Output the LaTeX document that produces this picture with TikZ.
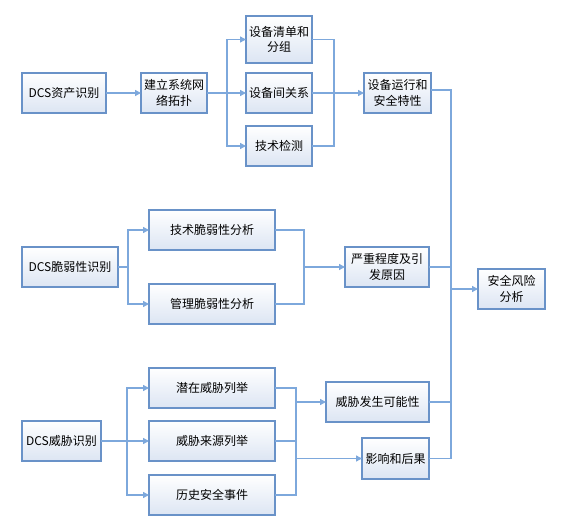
\documentclass[tikz,border=0pt]{standalone}
\usepackage{fontspec}
\usepackage{tikz}
\usetikzlibrary{arrows.meta}
\newfontfamily\cjk{Noto Sans CJK SC}
\definecolor{boxline}{RGB}{105,146,200}
\definecolor{boxshade}{RGB}{220,229,243}
\definecolor{linkline}{RGB}{125,168,220}
\tikzstyle{box}=[draw=boxline, line width=1.4pt, top color=white, bottom color=boxshade,
                 inner sep=0, outer sep=0, minimum height=40pt, align=center,
                 font=\cjk\fontsize{12}{15.5}\selectfont]
\tikzstyle{link}=[draw=linkline, line width=1.5pt]
\tikzstyle{arrow}=[link, -{Triangle[length=6pt, width=6pt]}]
\tikzstyle{flowchart}=[x=1pt, y=-1pt,
                       % Keep the page the size of the reference.
                       execute at end picture={\useasboundingbox (0,0) rectangle (566,527);}]

\begin{document}
\begin{tikzpicture}[flowchart]
        \useasboundingbox (0,0) rectangle (566,527);
        % assets
        \node[box, minimum width=84pt] (A1) at (64, 93) {DCS资产识别};
        \node[box, minimum width=66pt] (A2) at (174, 93) {建立系统网\\络拓扑};
        \node[box, minimum width=66pt, minimum height=47pt] (B1) at (279, 39.5) {设备清单和\\分组};
        \node[box, minimum width=66pt] (B2) at (279, 93) {设备间关系};
        \node[box, minimum width=66pt] (B3) at (279, 146) {技术检测};
        \node[box, minimum width=67pt] (C1) at (397.5, 93) {设备运行和\\安全特性};
        \coordinate (bA) at (227, 93);
        \coordinate (mA) at (334, 93);
        \draw[arrow] (A1) -- (A2);
        \draw[link] (A2) -- (bA);
        \draw[arrow] (bA) |- (B1);
        \draw[arrow] (bA) -- (B2);
        \draw[arrow] (bA) |- (B3);
        \draw[link] (B1.east) -| (mA) |- (B3.east);
        \draw[arrow] (B2) -- (C1);
        % vulnerabilities
        \node[box, minimum width=96pt] (V1) at (70, 267) {DCS脆弱性识别};
        \node[box, minimum width=126pt] (V2) at (212, 230) {技术脆弱性分析};
        \node[box, minimum width=126pt] (V3) at (212, 304) {管理脆弱性分析};
        \node[box, minimum width=84pt] (V4) at (387, 267) {严重程度及引\\发原因};
        \coordinate (bV) at (128, 267);
        \coordinate (mV) at (304, 267);
        \draw[link] (V1) -- (bV);
        \draw[arrow] (bV) |- (V2);
        \draw[arrow] (bV) |- (V3);
        \draw[link] (V2.east) -| (mV) |- (V3.east);
        \draw[arrow] (mV) -- (V4);
        % threats
        \node[box, minimum width=79pt] (W1) at (61.5, 441) {DCS威胁识别};
        \node[box, minimum width=126pt] (W2) at (212, 388) {潜在威胁列举};
        \node[box, minimum width=126pt] (W3) at (212, 441) {威胁来源列举};
        \node[box, minimum width=126pt] (W4) at (212, 495) {历史安全事件};
        \node[box, minimum width=103pt] (F1) at (377.5, 402) {威胁发生可能性};
        \node[box, minimum width=67pt, minimum height=41pt] (F2) at (395.5, 458.5) {影响和后果};
        \coordinate (bW) at (127, 441);
        \coordinate (mW1) at (296, 402);
        \coordinate (mW2) at (296, 458.5);
        \draw[link] (W1) -- (bW);
        \draw[arrow] (bW) |- (W2);
        \draw[arrow] (bW) -- (W3);
        \draw[arrow] (bW) |- (W4);
        \draw[link] (W2.east) -| (mW1) -- (mW2) |- (W4.east);
        \draw[link] (W3.east) -- (W3.east -| mW1);
        \draw[arrow] (mW1) -- (F1);
        \draw[arrow] (mW2) -- (F2);
        % risk
        \node[box, minimum width=67pt] (G) at (511.5, 289) {安全风险\\分析};
        \coordinate (T) at (451, 289);
        \draw[link] ([yshift=3pt]C1.east) -| (T) |- (F2.east);
        \draw[link] (V4.east) -- (V4.east -| T);
        \draw[link] (F1.east) -- (F1.east -| T);
        \draw[arrow] (T) -- (G);
    \end{tikzpicture}
\end{document}
